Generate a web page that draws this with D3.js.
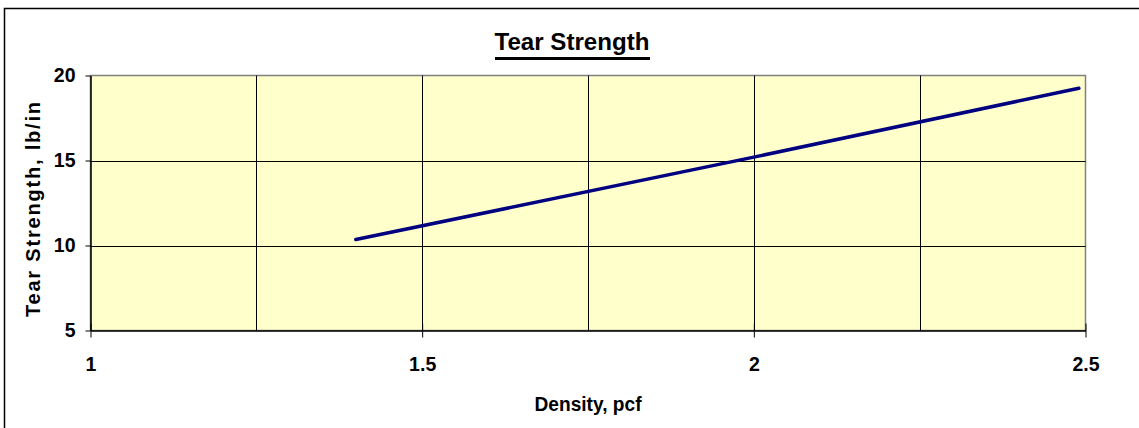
<!DOCTYPE html>
<html lang="en">
<head>
<meta charset="utf-8">
<title>Tear Strength</title>
<script src="https://d3js.org/d3.v7.min.js"></script>
<style>
  body { margin: 0; background: #fff; }
  svg text { font-family: "Liberation Sans", Arial, sans-serif; font-weight: bold; fill: #000; }
</style>
</head>
<body>
<script>
// data
var density = [1.4, 2.0, 2.49];
var tear = [10.35, 15.2, 19.25];
var xTicks = [1, 1.5, 2, 2.5];
var xGrid = [1.25, 1.5, 1.75, 2, 2.25];
var yTicks = [5, 10, 15, 20];
var yGrid = [10, 15];

var w = 1139, h = 428;
var plotL = 90.5, plotR = 1085.5, plotT = 75.5, plotB = 330.5;

var svg = d3.select("body").append("svg")
  .attr("width", w).attr("height", h);

// outer frame (right and bottom edges fall outside the picture)
svg.append("rect")
  .attr("x", 4.5).attr("y", 8.5)
  .attr("width", 1140).attr("height", 430)
  .attr("fill", "none").attr("stroke", "#000").attr("stroke-width", 1.5);

var x = d3.scaleLinear().domain([1, 2.5]).range([plotL, plotR]);
var y = d3.scaleLinear().domain([5, 20]).range([plotB, plotT]);

// plot area
svg.append("rect")
  .attr("x", plotL).attr("y", plotT)
  .attr("width", plotR - plotL).attr("height", plotB - plotT)
  .attr("fill", "#FFFFCC").attr("stroke", "#808080").attr("stroke-width", 1.5);

// grid
svg.selectAll(".vg").data(xGrid).enter().append("line")
  .attr("x1", function(d) { return Math.round(x(d)) + 0.5; })
  .attr("x2", function(d) { return Math.round(x(d)) + 0.5; })
  .attr("y1", plotT).attr("y2", plotB)
  .attr("stroke", "#000").attr("stroke-width", 1);

svg.selectAll(".hg").data(yGrid).enter().append("line")
  .attr("x1", plotL).attr("x2", plotR)
  .attr("y1", function(d) { return Math.round(y(d)) + 0.5; })
  .attr("y2", function(d) { return Math.round(y(d)) + 0.5; })
  .attr("stroke", "#000").attr("stroke-width", 1);

// axes
var xAxis = d3.axisBottom(x).tickValues(xTicks).tickSize(7).tickFormat(d3.format("")).tickSizeOuter(0);
var gx = svg.append("g").attr("transform", "translate(0," + plotB + ")").call(xAxis);
gx.select(".domain").attr("stroke", "#000").attr("stroke-width", 1.5);
gx.selectAll(".tick line").attr("stroke", "#000").attr("y1", -7);
gx.selectAll(".tick text")
  .attr("y", 27).attr("dy", "0.71em")
  .attr("font-size", "19.5px").attr("font-family", null);

var yAxis = d3.axisLeft(y).tickValues(yTicks).tickSize(5).tickSizeOuter(0);
var gy = svg.append("g").attr("transform", "translate(" + plotL + ",0)").call(yAxis);
gy.select(".domain").attr("stroke", "#000").attr("stroke-width", 1.5);
gy.selectAll(".tick line").attr("stroke", "#000");
gy.selectAll(".tick text")
  .attr("x", -15)
  .attr("font-size", "19.5px").attr("font-family", null);

// the line
var line = d3.line()
  .x(function(d, i) { return x(density[i]); })
  .y(function(d) { return y(d); });

svg.append("path")
  .datum(tear)
  .attr("d", line)
  .attr("fill", "none")
  .attr("stroke", "#000080")
  .attr("stroke-width", 3.5)
  .attr("stroke-linecap", "round");

// titles
svg.append("text")
  .attr("x", 572).attr("y", 50)
  .attr("text-anchor", "middle")
  .attr("font-size", "24px")
  .attr("textLength", 155).attr("lengthAdjust", "spacingAndGlyphs")
  .text("Tear Strength");
svg.append("line")
  .attr("x1", 495).attr("x2", 650)
  .attr("y1", 58.5).attr("y2", 58.5)
  .attr("stroke", "#000").attr("stroke-width", 3);

svg.append("text")
  .attr("x", 588).attr("y", 411)
  .attr("text-anchor", "middle")
  .attr("font-size", "20px")
  .attr("textLength", 107).attr("lengthAdjust", "spacingAndGlyphs")
  .text("Density, pcf");

svg.append("text")
  .attr("transform", "translate(40,209.5) rotate(-90)")
  .attr("text-anchor", "middle")
  .attr("font-size", "20px")
  .attr("textLength", 215).attr("lengthAdjust", "spacing")
  .text("Tear Strength, lb/in");
</script>
</body>
</html>
